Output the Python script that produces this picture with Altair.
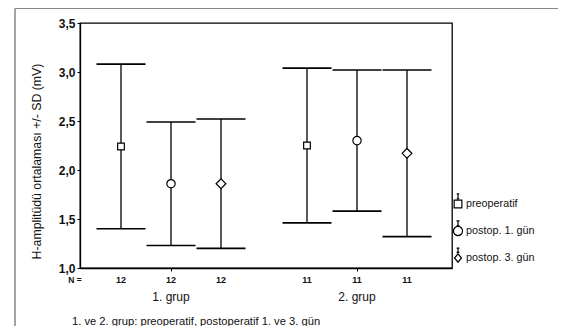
import altair as alt
import pandas as pd

groups = ["1. grup", "2. grup"]
group_centers = [1.82, 5.54]
series = ["preoperatif", "postop. 1. gün", "postop. 3. gün"]
series_offsets = [-1.0, 0.0, 1.0]
n_values = [12, 12, 12, 11, 11, 11]
means = [2.24, 1.86, 1.86, 2.25, 2.30, 2.17]
sds = [0.84, 0.63, 0.66, 0.79, 0.72, 0.85]
y_ticks = [1.0, 1.5, 2.0, 2.5, 3.0, 3.5]
footer = "1. ve 2. grup: preoperatif, postoperatif 1. ve 3. gün"
y_title = "H-amplitüdü ortalaması +/- SD (mV)"

rows = []
i = 0
for g, c in zip(groups, group_centers):
    for s, o in zip(series, series_offsets):
        xv = c + o
        rows.append(dict(group=g, series=s, x=xv, xlo=xv - 0.49, xhi=xv + 0.49,
                         mean=means[i], lo=means[i] - sds[i], hi=means[i] + sds[i],
                         n=str(n_values[i])))
        i += 1
df = pd.DataFrame(rows)
df_g = pd.DataFrame({"group": groups, "x": group_centers})

W, H = 372, 245
xs = alt.Scale(domain=[0, 7.44], nice=False, zero=False)
ys = alt.Scale(domain=[1.0, 3.5], nice=False, zero=False)
x_axis = alt.Axis(values=group_centers, labels=False, title=None, grid=False, tickSize=3,
                  domainColor="black", tickColor="black", domainWidth=1.3)
y_axis = alt.Axis(values=y_ticks, grid=False, title=y_title,
                  labelExpr="replace(format(datum.value, '.1f'), '.', ',')",
                  tickSize=3, domainColor="black", tickColor="black", domainWidth=1.3,
                  labelFontSize=12, labelFontWeight="bold", labelColor="#111",
                  titleFontSize=12.3, titleFontWeight="normal", titleColor="#111",
                  titleX=-44, titleY=138, titleBaseline="middle", titleAlign="center",
                  titleAngle=270, labelPadding=2)

base = alt.Chart(df)

stems = base.mark_rule(color="black", strokeWidth=1.3).encode(
    x=alt.X("x:Q", scale=xs, axis=x_axis),
    y=alt.Y("lo:Q", scale=ys, axis=y_axis),
    y2="hi:Q",
)
cap_hi = base.mark_rule(color="black", strokeWidth=1.6).encode(
    x=alt.X("xlo:Q", scale=xs, axis=x_axis), x2="xhi:Q",
    y=alt.Y("hi:Q", scale=ys, axis=y_axis),
)
cap_lo = base.mark_rule(color="black", strokeWidth=1.6).encode(
    x=alt.X("xlo:Q", scale=xs, axis=x_axis), x2="xhi:Q",
    y=alt.Y("lo:Q", scale=ys, axis=y_axis),
)
markers = base.mark_point(filled=True, fill="white", stroke="black", strokeWidth=1.2, opacity=1).encode(
    x=alt.X("x:Q", scale=xs, axis=x_axis),
    y=alt.Y("mean:Q", scale=ys, axis=y_axis),
    shape=alt.Shape("series:N", scale=alt.Scale(domain=series, range=["square", "circle", "diamond"]),
                    legend=None),
    size=alt.Size("series:N", scale=alt.Scale(domain=series, range=[45, 95, 40]), legend=None),
)

leg_paths = [
    "M-0.55,-0.55H0.55V0.55H-0.55Z M-0.18,-1.45H0.18 M0,-1.45V-0.75 M-0.18,-0.75H0.18",
    "M-0.65,0A0.65,0.65 0 1,0 0.65,0A0.65,0.65 0 1,0 -0.65,0Z M-0.22,-1.45H0.22 M0,-1.45V-0.75 M-0.22,-0.75H0.22",
    "M0,-0.6L0.5,0L0,0.6L-0.5,0Z M-0.2,-1.4H0.2 M0,-1.4V-0.8 M-0.2,-0.8H0.2",
]
legend_layer = base.transform_filter("false").mark_point(filled=False, color="black").encode(
    x=alt.X("x:Q", scale=xs, axis=x_axis),
    y=alt.Y("mean:Q", scale=ys, axis=y_axis),
    shape=alt.Shape("series:N", scale=alt.Scale(domain=series, range=leg_paths),
                    legend=alt.Legend(title=None, orient="none", legendX=370, legendY=173,
                                      symbolSize=196, symbolStrokeWidth=1.2,
                                      symbolStrokeColor="black", symbolFillColor="transparent",
                                      symbolOpacity=1, labelFontSize=10.8, labelColor="#111",
                                      rowPadding=7, labelOffset=0, padding=0)),
)

n_text = base.mark_text(fontSize=9, fontWeight="bold", color="#111", baseline="middle").encode(
    x=alt.X("x:Q", scale=xs, axis=x_axis), y=alt.value(257), text="n:N")
n_label = alt.Chart(pd.DataFrame({"t": ["N ="]})).mark_text(
    fontSize=8.5, fontWeight="bold", color="#111", baseline="middle").encode(
    x=alt.value(-5), y=alt.value(257), text="t:N")
g_text = alt.Chart(df_g).mark_text(fontSize=12, color="#111", baseline="middle").encode(
    x=alt.X("x:Q", scale=xs, axis=x_axis), y=alt.value(274), text="group:N")
foot = alt.Chart(pd.DataFrame({"t": [footer]})).mark_text(
    fontSize=11.2, color="#111", align="left", baseline="middle").encode(
    x=alt.value(-8), y=alt.value(299), text="t:N")

frame_df = pd.DataFrame({"a": [0]})
frame_left = alt.Chart(frame_df).mark_rule(color="#666", strokeWidth=1.2).encode(
    x=alt.value(-65), y=alt.value(-14.5), y2=alt.value(320))
frame_top = alt.Chart(frame_df).mark_rule(color="#888", strokeWidth=1.2).encode(
    x=alt.value(-65), x2=alt.value(500), y=alt.value(-14.5))

chart = alt.layer(
    stems, cap_hi, cap_lo, markers, legend_layer, n_text, n_label, g_text, foot, frame_left, frame_top
).resolve_scale(shape="independent", size="independent").properties(
    width=W, height=H,
    autosize=alt.AutoSizeParams(type="none"),
    padding={"left": 72, "top": 15, "right": 106, "bottom": 58},
).configure(font="Liberation Sans").configure_view(stroke="black", strokeWidth=1.3)

chart.save("out.html", embed_options={"renderer": "svg", "actions": False})
